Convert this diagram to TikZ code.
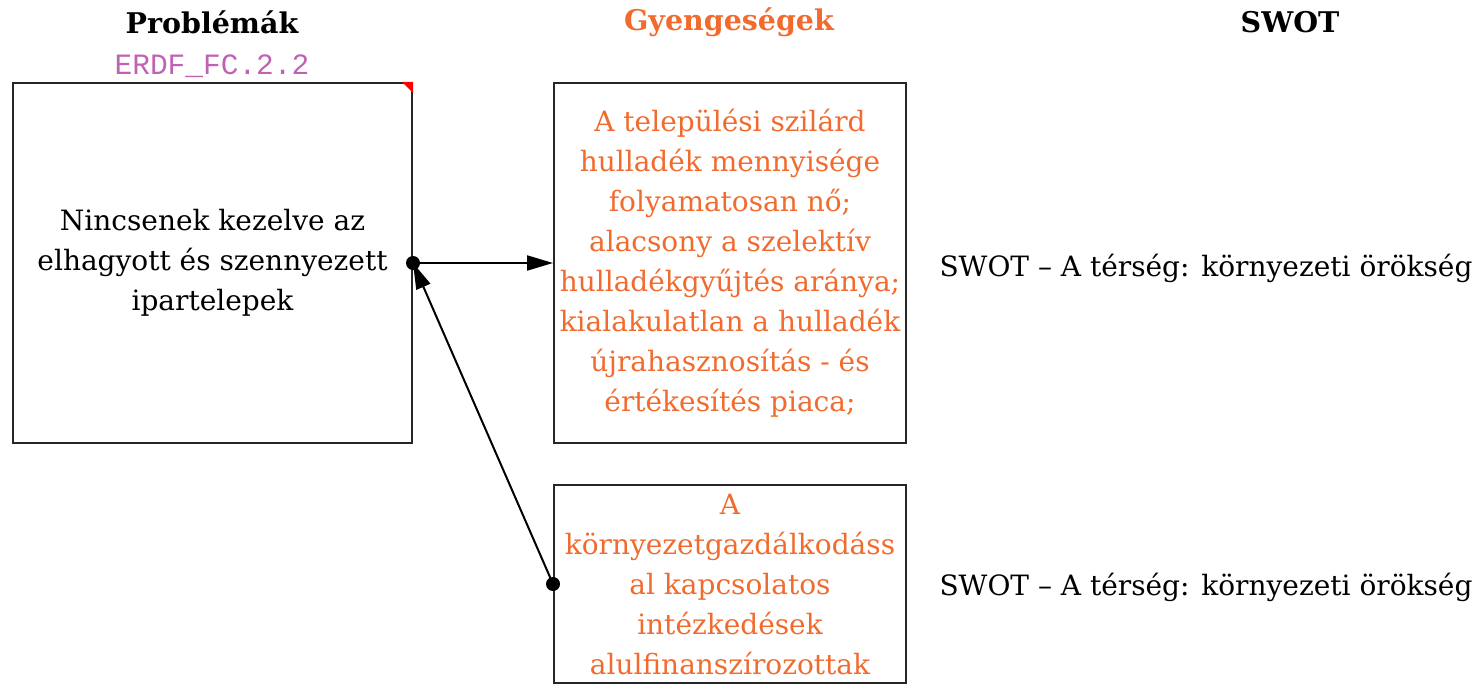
\documentclass[tikz,border=0pt]{standalone}
\usepackage{fontspec}
\setmainfont{DejaVu Serif}
\newfontfamily\codefont{Liberation Mono}
\usetikzlibrary{arrows.meta}
\definecolor{weakorange}{HTML}{F26B2E}
\definecolor{codepink}{HTML}{C062B4}
\tikzset{
  box/.style={draw=black!85, line width=2pt, inner sep=0pt, align=center, anchor=north west},
  bodytext/.style={font=\fontsize{28}{40}\selectfont},
  header/.style={font=\fontsize{28.5}{32}\selectfont\bfseries},
  conn/.style={line width=2pt, -{Triangle[length=26pt,width=15pt]}},
}
\begin{document}
\begin{tikzpicture}[x=1pt,y=-1pt]
\useasboundingbox (0,0) rectangle (1476,684);
% headers
\node[header] (hp) at (212,22) {Problémák};
\node[header, text=weakorange] (hg) at (729,22) {Gyengeségek};
\node[header] (hs) at (1290,22) {SWOT};
\node[font=\fontsize{29.5}{32}\selectfont\codefont, text=codepink] (code) at (212,66) {ERDF\_FC.2.2};
% boxes
\node[box, bodytext, minimum width=399pt, minimum height=360pt] (L) at (12,82)
  {Nincsenek kezelve az\\elhagyott és szennyezett\\ipartelepek};
\node[box, bodytext, text=weakorange, minimum width=352pt, minimum height=360pt] (T) at (553,82)
  {A települési szilárd\\hulladék mennyisége\\folyamatosan nő;\\alacsony a szelektív\\hulladékgyűjtés aránya;\\kialakulatlan a hulladék\\újrahasznosítás - és\\értékesítés piaca;};
\node[box, bodytext, text=weakorange, minimum width=352pt, minimum height=198pt] (B) at (553,484)
  {A\\környezetgazdálkodáss\\al kapcsolatos\\intézkedések\\alulfinanszírozottak};
% red corner
\fill[red] (L.north east) -- ++(-11,0) -- ++(11,11) -- cycle;
% SWOT labels
\node[bodytext, anchor=west] (s1) at (936,268) {SWOT – A térség: környezeti örökség};
\node[bodytext, anchor=west] (s2) at (936,587) {SWOT – A térség: környezeti örökség};
% connectors
\draw[conn] (L.east) -- (T.west);
\draw[conn] (B.west) -- (L.east);
\fill (L.east) circle [radius=7pt];
\fill (B.west) circle [radius=7pt];
\end{tikzpicture}
\end{document}
